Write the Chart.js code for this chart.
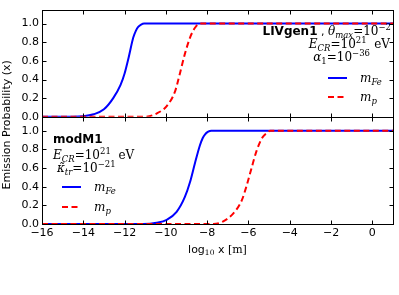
<!DOCTYPE html>
<html>
<head>
<meta charset="utf-8">
<script src="https://cdn.jsdelivr.net/npm/chart.js@4/dist/chart.umd.min.js"></script>
<style>
  body { margin: 0; background: #fff; }
  #wrap { width: 399px; height: 295px; }
</style>
</head>
<body>
<div id="wrap"><canvas id="graph"></canvas></div>
<script>
// log10 x [m] vs emission probability
const topFeX = [-16, -14.5, -14.0, -13.5, -13.0, -12.55, -12.2, -12.0, -11.8, -11.58, -11.45, -11.34, -11.2, -11.05, 1];
const topFeY = [0, 0, 0.005, 0.027, 0.08, 0.2, 0.34, 0.465, 0.64, 0.85, 0.925, 0.965, 0.99, 1, 1];
const topPX = [-16, -11.0, -10.45, -9.96, -9.56, -9.32, -9.08, -8.83, -8.7, -8.59, -8.45, -8.3, 1];
const topPY = [0, 0, 0.035, 0.115, 0.27, 0.465, 0.675, 0.85, 0.915, 0.955, 0.99, 1, 1];
const botFeX = [-16, -11.1, -10.45, -9.96, -9.48, -9.08, -8.83, -8.59, -8.35, -8.22, -8.11, -7.95, -7.8, 1];
const botFeY = [0, 0, 0.014, 0.045, 0.13, 0.29, 0.45, 0.655, 0.845, 0.92, 0.96, 0.99, 1, 1];
const botPX = [-16, -7.7, -7.22, -6.73, -6.33, -6.09, -5.85, -5.6, -5.36, -5.22, -5.12, -4.95, 1];
const botPY = [0, 0, 0.028, 0.115, 0.25, 0.41, 0.6, 0.79, 0.915, 0.955, 0.975, 1, 1];

const xTicks = [-16, -14, -12, -10, -8, -6, -4, -2, 0];
const yTicks = [0, 0.2, 0.4, 0.6, 0.8, 1.0];

const BLUE = '#0000ff', RED = '#ff0000';
const SANS = '"DejaVu Sans"', SERIF = '"DejaVu Serif"';
const DASH = [6, 3.5];

const pts = (xs, ys) => xs.map((x, i) => ({ x: x, y: ys[i] }));

function line(xs, ys, color, axis, dashed) {
  return {
    data: pts(xs, ys),
    yAxisID: axis,
    borderColor: color,
    borderWidth: 2,
    borderDash: dashed ? DASH : [],
    pointRadius: 0,
    cubicInterpolationMode: 'monotone',
    order: dashed ? 0 : 1,
  };
}

// write a line of mixed fonts: parts = [text, font, dy]
function rich(ctx, x, y, parts, align) {
  let w = 0;
  parts.forEach(p => { ctx.font = p[1]; w += ctx.measureText(p[0]).width; });
  let cx = align === 'right' ? x - w : align === 'center' ? x - w / 2 : x;
  ctx.textAlign = 'left';
  ctx.textBaseline = 'alphabetic';
  parts.forEach(p => {
    ctx.font = p[1];
    ctx.fillText(p[0], cx, y + (p[2] || 0));
    cx += ctx.measureText(p[0]).width;
  });
}

const it = s => 'italic ' + s + 'px ' + SERIF;
const rm = s => s + 'px ' + SERIF;

function ecr(ctx, x, y, align) {
  rich(ctx, x, y, [['E', it(12)], ['CR', it(8.5), 3], ['=10', rm(12)], ['21', rm(8.5), -5], ['  eV', rm(12)]], align);
}

function legendRow(ctx, x, y, color, dashed, sym, sub) {
  ctx.save();
  ctx.strokeStyle = color;
  ctx.lineWidth = 2;
  ctx.setLineDash(dashed ? DASH : []);
  ctx.beginPath();
  ctx.moveTo(x, y);
  ctx.lineTo(x + (dashed ? 15.5 : 19), y);
  ctx.stroke();
  ctx.restore();
  rich(ctx, x + 32, y + 4, [[sym, it(12)], [sub, it(8.5), 3]], 'left');
}

const panels = {
  id: 'panels',
  afterDatasetsDraw(chart) {
    const ctx = chart.ctx, a = chart.chartArea, sx = chart.scales.x;
    ctx.save();
    ctx.strokeStyle = '#000';
    ctx.lineWidth = 1;
    ['yTop', 'yBot'].forEach(id => {
      const s = chart.scales[id];
      const t = Math.round(s.top) + 0.5, b = Math.round(s.bottom) + 0.5;
      const l = Math.round(a.left) + 0.5, r = Math.round(a.right) + 0.5;
      ctx.strokeRect(l, t, r - l, b - t);
      ctx.beginPath();
      xTicks.forEach(v => {
        const px = Math.round(sx.getPixelForValue(v)) + 0.5;
        ctx.moveTo(px, b); ctx.lineTo(px, b - 4);
        ctx.moveTo(px, t); ctx.lineTo(px, t + 4);
      });
      yTicks.forEach(v => {
        const py = Math.round(s.getPixelForValue(v)) + 0.5;
        ctx.moveTo(l, py); ctx.lineTo(l + 4, py);
        ctx.moveTo(r, py); ctx.lineTo(r - 4, py);
      });
      ctx.stroke();
    });

    ctx.fillStyle = '#000';
    // y title across both panels
    ctx.save();
    ctx.translate(7, (a.top + a.bottom) / 2 + 8);
    ctx.rotate(-Math.PI / 2);
    ctx.font = '11px ' + SANS;
    ctx.textAlign = 'center';
    ctx.textBaseline = 'middle';
    ctx.fillText('Emission Probability (x)', 0, 0);
    ctx.restore();

    // x title
    rich(ctx, (a.left + a.right) / 2, 253, [['log', '11px ' + SANS], ['10', rm(7.5), 2], [' x ', '11px ' + SANS], ['[m]', rm(11)]], 'center');

    // top panel notes
    rich(ctx, 391, 35, [['LIVgen1', 'bold 12px ' + SANS], [' , ', '11px ' + SANS], ['θ', it(12)], ['max', it(8.5), 3], ['=10', rm(12)], ['−2', rm(8.5), -5]], 'right');
    ecr(ctx, 390, 48, 'right');
    rich(ctx, 370, 61, [['α', it(12)], ['1', rm(8.5), 3], ['=10', rm(12)], ['−36', rm(8.5), -5]], 'right');
    legendRow(ctx, 328, 78, BLUE, false, 'm', 'Fe');
    legendRow(ctx, 328, 97, RED, true, 'm', 'p');

    // bottom panel notes
    rich(ctx, 53, 143, [['modM1', 'bold 12px ' + SANS]], 'left');
    ecr(ctx, 53, 159, 'left');
    rich(ctx, 57, 172, [['κ̃', it(12)], ['tr', it(8.5), 3], ['=10', rm(12)], ['−21', rm(8.5), -5]], 'left');
    legendRow(ctx, 62, 187, BLUE, false, 'm', 'Fe');
    legendRow(ctx, 62, 207, RED, true, 'm', 'p');
    ctx.restore();
  }
};

const yAxis = {
  type: 'linear',
  position: 'left',
  stack: 'panels',
  stackWeight: 1,
  min: 0,
  max: 1.15,
  grid: { display: false, drawTicks: false },
  border: { display: false },
  ticks: {
    autoSkip: false,
    padding: 3,
    color: '#000',
    font: { family: SANS, size: 11 },
    callback: v => v.toFixed(1),
  },
  afterBuildTicks: s => { s.ticks = yTicks.map(v => ({ value: v })); },
  afterFit: s => { s.width = 42; },
};

new Chart(document.getElementById('graph'), {
  type: 'line',
  data: {
    datasets: [
      line(topFeX, topFeY, BLUE, 'yTop', false),
      line(topPX, topPY, RED, 'yTop', true),
      line(botFeX, botFeY, BLUE, 'yBot', false),
      line(botPX, botPY, RED, 'yBot', true),
    ],
  },
  options: {
    responsive: true,
    maintainAspectRatio: false,
    animation: false,
    layout: { padding: { top: 4, right: 6, left: 0, bottom: 0 } },
    plugins: { legend: { display: false }, tooltip: { enabled: false } },
    scales: {
      x: {
        type: 'linear',
        min: -16,
        max: 1,
        grid: { display: false, drawTicks: false },
        border: { display: false },
        ticks: {
          autoSkip: false,
          padding: 3,
          color: '#000',
          font: { family: SANS, size: 11 },
          maxRotation: 0,
          callback: v => String(v).replace('-', '−'),
        },
        afterBuildTicks: s => { s.ticks = xTicks.map(v => ({ value: v })); },
        afterFit: s => { s.height = 71; },
      },
      yBot: Object.assign({}, yAxis),
      yTop: Object.assign({}, yAxis),
    },
  },
  plugins: [panels],
});
</script>
</body>
</html>
